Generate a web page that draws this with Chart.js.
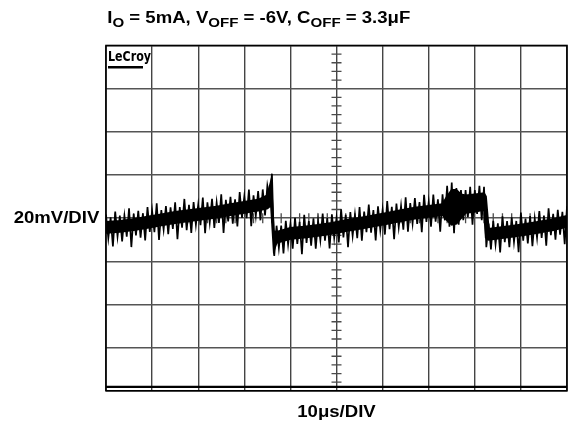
<!DOCTYPE html>
<html>
<head>
<meta charset="utf-8">
<script src="https://cdn.jsdelivr.net/npm/chart.js@4.4.1/dist/chart.umd.min.js"></script>
<style>
  html, body { margin: 0; padding: 0; background: #fff; }
  canvas { display: block; }
</style>
</head>
<body>
<canvas id="scope" width="568" height="424"></canvas>
<script>
// horizontal: 10us/div, 10 div ; vertical: 20mV/div, 8 div
const xTicksUs = [0, 10, 20, 30, 40, 50, 60, 70, 80, 90, 100];
const yTicksMv = [-80, -60, -40, -20, 0, 20, 40, 60, 80];
const sampleStepUs = 0.5;

// upper excursions of the noisy trace, one per 1us (t = 0..100us), in mV
const peakMv = [
  1.7, 0.4, 3.0, 1.2, 0.9, 4.6, 2.0, 3.4, 2.2, 5.1,
  3.5, 6.9, 3.7, 5.6, 5.0, 7.3, 5.1, 8.9, 6.2, 7.4,
  6.2, 9.5, 7.3, 9.0, 7.3, 11.1, 8.5, 9.9, 8.7, 12.1,
  10.0, 13.3, 10.6, 12.5, 13.3, 15.0, 20.6, -3.5, -3.4, -1.2,
  -2.6, 0.1, -1.7, 1.5, -1.3, -0.1, -1.2, 2.1, 0.0, 1.8,
  0.2, 4.1, 1.5, 2.8, 1.7, 5.1, 3.0, 6.3, 3.7, 5.5,
  3.9, 7.9, 5.3, 6.8, 5.7, 9.7, 7.0, 9.3, 7.5, 10.8,
  7.6, 10.9, 8.7, 11.0, 15.0, 16.5, 14.0, 13.0, 13.0, 14.5,
  13.0, 15.0, 14.5, -2.5, -1.2, -2.4, 0.9, -1.4, 0.4, -1.3,
  2.6, -0.2, 1.0, -0.1, 3.3, 1.2, 4.6, 2.0, 3.9, 2.9,
  5.5
];

// lower excursions, between the peaks (t = 0.5..99.5us), in mV
const troughMv = [
  -9.3, -13.1, -8.5, -10.8, -8.6, -13.4, -8.0, -9.1, -10.3, -6.4,
  -6.5, -10.1, -5.3, -7.4, -5.0, -9.7, -4.4, -5.6, -6.8, -3.1,
  -3.3, -7.0, -2.2, -4.5, -2.2, -6.9, -1.5, -2.6, -3.8, 0.1,
  0.0, -3.7, 1.1, -1.0, 1.3, 9.0, -17.5, -13.9, -16.4, -12.2,
  -14.1, -11.9, -16.7, -11.5, -12.8, -14.1, -10.2, -10.4, -14.0, -9.2,
  -11.3, -8.9, -13.5, -8.2, -9.3, -10.4, -6.5, -6.7, -10.3, -5.5,
  -7.6, -5.1, -9.7, -4.2, -5.3, -6.3, -2.5, -2.7, -6.5, -1.7,
  -3.9, -1.6, -6.3, -1.0, -4.0, -7.0, -3.0, -1.0, 0.5, -3.0,
  2.0, -1.0, -13.5, -14.5, -12.2, -15.9, -11.1, -13.4, -11.1, -15.8,
  -10.4, -11.7, -13.0, -9.1, -9.2, -12.8, -7.9, -10.0, -7.6, -12.1
];

// solid core of the trace (the dense part of the persistence band)
const coreTimeUs = [0, 3, 6, 9, 12, 15, 18, 21, 24, 27, 30, 33, 35, 35.8, 36.4, 37, 40, 43, 46, 49,
  52, 55, 58, 61, 64, 67, 70, 73, 74, 75, 76, 77, 78, 80, 82, 82.4, 83, 85, 88, 91, 94, 97, 100];
const coreHighMv = [-1.8, -1.3, -0.5, 0.6, 1.7, 2.8, 3.7, 4.5, 5.3, 6.4, 7.5, 8.5, 10.5, 17, -6, -6.4, -4.6, -4.0, -3.2, -2.2,
  -1.0, 0.1, 1.2, 2.4, 3.7, 4.8, 5.6, 6.5, 10, 13, 13, 11, 10.5, 11, 11.5, 10, -5, -4.4, -3.6, -2.7, -1.7, -0.5, 1.0];
const coreLowMv = [-6.8, -6.3, -5.5, -4.4, -3.3, -2.2, -1.3, -0.5, 0.3, 1.4, 2.5, 3.5, 4.5, 6, -15, -11.4, -9.6, -9.0, -8.2, -7.2,
  -6.0, -4.9, -3.8, -2.6, -1.3, -0.2, 0.6, 1.5, -1, -3, -2.5, 0, 2.5, 3, 4, -9, -10, -9.4, -8.6, -7.7, -6.7, -5.5, -4.0];

function buildTrace() {
  const pts = [];
  peakMv.forEach((v, i) => {
    pts.push({x: i * 2 * sampleStepUs, y: v});
    if (i < troughMv.length) pts.push({x: (i * 2 + 1) * sampleStepUs, y: troughMv[i]});
  });
  return pts;
}

const FONT = "'Liberation Sans', Arial, sans-serif";
const STRETCH = 1.16;

function stretchedText(ctx, parts, x, y, align) {
  // parts: [text, size, dy]
  ctx.save();
  let w = 0;
  parts.forEach(p => { ctx.font = 'bold ' + p[1] + 'px ' + FONT; w += ctx.measureText(p[0]).width; });
  let start = x;
  if (align === 'center') start = x - w * STRETCH / 2;
  if (align === 'right') start = x - w * STRETCH;
  ctx.translate(start, y);
  ctx.scale(STRETCH, 1);
  ctx.fillStyle = '#000';
  ctx.textBaseline = 'alphabetic';
  ctx.textAlign = 'left';
  let cx = 0;
  parts.forEach(p => {
    ctx.font = 'bold ' + p[1] + 'px ' + FONT;
    ctx.fillText(p[0], cx, p[2]);
    cx += ctx.measureText(p[0]).width;
  });
  ctx.restore();
}

const scopeDecor = {
  id: 'scopeDecor',
  beforeDatasetsDraw(chart) {
    const {ctx, chartArea: a, scales: {x, y}} = chart;
    ctx.save();
    ctx.strokeStyle = '#4a4a4a';
    ctx.lineWidth = 1.3;
    const cx = x.getPixelForValue(50), cy = y.getPixelForValue(0);
    ctx.beginPath();
    for (let v = -80; v <= 80; v += 4) {
      if (v % 20 === 0) continue;
      const py = y.getPixelForValue(v);
      ctx.moveTo(cx - 5, py); ctx.lineTo(cx + 5, py);
    }
    for (let t = 0; t <= 100; t += 2) {
      if (t % 10 === 0) continue;
      const px = x.getPixelForValue(t);
      ctx.moveTo(px, cy - 5); ctx.lineTo(px, cy + 5);
    }
    ctx.stroke();
    // outer frame
    ctx.strokeStyle = '#000';
    ctx.lineWidth = 1.6;
    ctx.strokeRect(a.left, a.top, a.right - a.left, a.bottom - a.top);
    // heavy line just above the bottom edge
    ctx.lineWidth = 2.4;
    ctx.beginPath();
    const by = y.getPixelForValue(-78.2);
    ctx.moveTo(a.left, by); ctx.lineTo(a.right, by);
    ctx.stroke();
    // LeCroy badge
    ctx.font = "bold 13px 'DejaVu Sans Condensed', 'DejaVu Sans', sans-serif";
    const tw = ctx.measureText('LeCroy').width;
    ctx.save();
    ctx.translate(a.left + 2, a.top + 15);
    ctx.scale(43 / tw, 1.05);
    ctx.fillStyle = '#000';
    ctx.fillText('LeCroy', 0, 0);
    ctx.restore();
    ctx.fillRect(a.left + 2, a.top + 20.5, 35, 2.5);
    ctx.restore();
  },
  afterDraw(chart) {
    const ctx = chart.ctx;
    stretchedText(ctx, [['I', 16, 0], ['O', 13, 3.5], [' = 5mA, V', 16, 0], ['OFF', 13, 3.5],
      [' = -6V, C', 16, 0], ['OFF', 13, 3.5], [' = 3.3μF', 16, 0]], 107.3, 23.3, 'left');
    stretchedText(ctx, [['20mV/DIV', 16, 0]], 99.3, 222.8, 'right');
    stretchedText(ctx, [['10μs/DIV', 16, 0]], 336.5, 417.3, 'center');
  }
};

new Chart(document.getElementById('scope'), {
  type: 'line',
  data: {
    datasets: [{
      data: buildTrace(),
      borderColor: '#000',
      borderWidth: 1.7,
      pointRadius: 0,
      tension: 0,
      fill: false
    }, {
      data: coreTimeUs.map((t, i) => ({x: t, y: coreHighMv[i]})),
      borderColor: '#000',
      borderWidth: 2,
      backgroundColor: '#000',
      pointRadius: 0,
      tension: 0,
      fill: '+1'
    }, {
      data: coreTimeUs.map((t, i) => ({x: t, y: coreLowMv[i]})),
      borderColor: '#000',
      borderWidth: 2,
      pointRadius: 0,
      tension: 0,
      fill: false
    }]
  },
  options: {
    responsive: false,
    animation: false,
    events: [],
    layout: { padding: { left: 106, right: 1, top: 45.5, bottom: 33.2 } },
    plugins: { legend: { display: false }, tooltip: { enabled: false }, title: { display: false } },
    scales: {
      x: {
        type: 'linear', min: 0, max: 100,
        afterBuildTicks: s => { s.ticks = xTicksUs.map(v => ({value: v})); },
        afterFit: s => { s.height = 0; },
        ticks: { display: false },
        border: { display: false },
        grid: { color: '#444', lineWidth: 1.4, drawTicks: false }
      },
      y: {
        type: 'linear', min: -80, max: 80,
        afterBuildTicks: s => { s.ticks = yTicksMv.map(v => ({value: v})); },
        afterFit: s => { s.width = 0; },
        ticks: { display: false },
        border: { display: false },
        grid: { color: '#555', lineWidth: 1.4, drawTicks: false }
      }
    }
  },
  plugins: [scopeDecor]
});
</script>
</body>
</html>
